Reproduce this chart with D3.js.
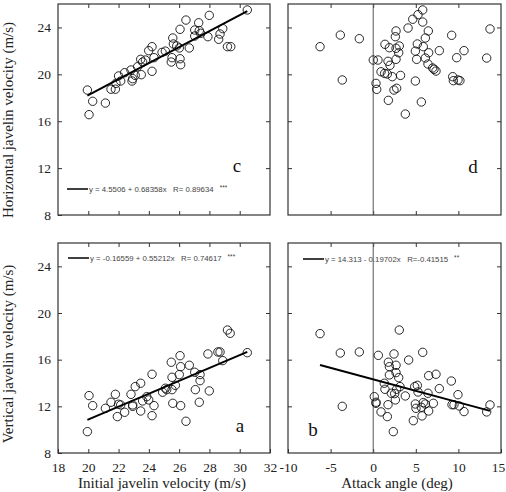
<!DOCTYPE html>
<html>
<head>
<meta charset="utf-8">
<script src="https://cdn.jsdelivr.net/npm/d3@7"></script>
<style>
  body { margin: 0; background: #fff; }
  svg { display: block; }
  .fit { white-space: pre; }
</style>
</head>
<body>
<div id="chart"></div>
<script>
// panel c: initial velocity vs horizontal velocity
const cInit = [19.94, 20.05, 20.29, 21.13, 21.5, 21.79, 21.83, 22.0, 22.14, 22.4, 22.82, 22.89, 22.93, 23.1, 23.26, 23.46, 23.5, 23.59, 23.77, 23.99, 24.21, 24.21, 24.34, 24.87, 25.09, 25.48, 25.53, 25.58, 25.62, 25.84, 26.06, 26.06, 26.1, 26.01, 26.45, 26.67, 27.03, 27.03, 27.29, 27.33, 27.42, 27.9, 27.99, 28.61, 28.7, 28.88, 29.19, 29.41, 30.5];
const cHoriz = [18.66, 16.56, 17.7, 17.55, 18.73, 18.73, 19.23, 19.86, 19.43, 20.14, 20.37, 19.43, 19.63, 19.91, 20.65, 21.28, 19.97, 21.05, 21.22, 22.02, 22.36, 20.26, 21.42, 21.87, 21.98, 21.05, 21.42, 23.1, 22.59, 22.42, 23.84, 21.33, 20.82, 22.25, 24.63, 22.25, 23.78, 23.27, 24.4, 23.73, 23.5, 23.21, 25.03, 22.99, 23.44, 23.9, 22.36, 22.36, 25.49];

// panel d: attack angle vs horizontal velocity
const dAngle = [-6.24, -3.86, -3.63, -1.63, 0.01, 0.33, 0.41, 0.56, 0.92, 1.34, 1.38, 1.66, 1.74, 1.78, 1.9, 1.97, 2.24, 2.44, 2.6, 2.68, 2.68, 2.68, 2.75, 3.06, 2.99, 3.21, 3.77, 4.09, 4.64, 4.95, 4.95, 5.1, 5.18, 5.26, 5.65, 5.81, 5.81, 5.88, 6.12, 6.12, 6.43, 6.51, 6.47, 6.98, 7.14, 7.37, 7.76, 9.21, 9.33, 9.41, 9.8, 9.95, 10.18, 10.66, 13.32, 13.71];
const dHoriz = [22.36, 23.35, 19.52, 23.04, 21.22, 19.23, 18.72, 21.22, 20.22, 20.08, 22.56, 20.03, 21.11, 17.78, 22.27, 20.77, 19.8, 18.66, 23.21, 23.7, 21.28, 22.22, 18.81, 22.42, 21.84, 19.91, 16.61, 23.95, 24.7, 21.98, 19.43, 21.28, 22.59, 25.09, 17.64, 24.46, 25.49, 22.36, 23.1, 21.39, 20.88, 21.84, 23.7, 20.54, 20.43, 20.28, 22.02, 23.33, 19.8, 19.46, 21.42, 19.52, 19.46, 22.02, 21.39, 23.87];

// panel a: initial velocity vs vertical velocity
const aInit = [19.94, 20.05, 20.29, 21.13, 21.5, 21.79, 21.92, 22.0, 22.14, 22.4, 22.82, 22.93, 22.93, 23.1, 23.46, 23.46, 23.59, 23.86, 23.99, 24.21, 24.21, 24.34, 24.91, 25.09, 25.18, 25.48, 25.53, 25.53, 25.58, 25.75, 26.01, 26.06, 26.1, 26.1, 26.45, 26.67, 27.03, 27.07, 27.33, 27.38, 27.38, 27.9, 27.99, 28.56, 28.7, 28.88, 29.19, 29.37, 30.5];
const aVert = [9.83, 12.92, 12.06, 11.83, 12.35, 13.03, 11.12, 12.18, 12.12, 11.49, 13.03, 12.12, 12.0, 13.69, 13.98, 11.6, 12.46, 12.83, 12.55, 14.75, 11.2, 12.06, 13.21, 13.55, 13.43, 15.78, 14.49, 13.43, 12.26, 13.8, 14.72, 16.34, 15.4, 12.06, 10.72, 15.52, 14.92, 13.43, 12.35, 14.2, 14.72, 16.49, 13.32, 16.66, 16.66, 15.92, 18.54, 18.26, 16.6];

// panel b: attack angle vs vertical velocity
const bAngle = [-6.24, -3.86, -3.63, -1.63, 0.13, 0.33, 0.33, 0.6, 0.92, 1.3, 1.38, 1.66, 1.74, 1.78, 1.9, 1.9, 2.13, 2.36, 2.44, 2.52, 2.6, 2.68, 2.68, 2.75, 2.99, 3.06, 3.15, 3.77, 4.16, 4.71, 4.87, 4.95, 5.02, 5.18, 5.26, 5.65, 5.73, 5.81, 5.88, 6.12, 6.43, 6.51, 6.51, 7.06, 7.37, 7.76, 9.17, 9.25, 9.48, 9.95, 10.1, 10.66, 13.32, 13.71];
const bVert = [18.23, 16.57, 12.0, 16.66, 12.83, 12.35, 12.26, 16.37, 11.52, 13.98, 13.46, 11.12, 12.14, 15.78, 15.4, 14.69, 13.12, 9.83, 16.49, 13.09, 12.55, 15.52, 14.89, 13.46, 14.46, 18.54, 13.69, 12.89, 15.97, 10.77, 13.69, 12.2, 11.83, 13.8, 13.23, 11.92, 11.18, 16.63, 12.32, 12.2, 13.12, 14.63, 11.6, 12.26, 14.75, 13.52, 14.17, 12.14, 12.14, 13.0, 12.03, 11.55, 11.52, 12.12];

// regression fits: [intercept, slope]
const cFit = [4.5506, 0.68358];
const aFit = [-0.16559, 0.55212];
const bFit = [14.313, -0.19702];

const velTicks = [18, 20, 22, 24, 26, 28, 30, 32];
const angleTicks = [-10, -5, 0, 5, 10, 15];
const yTicks = [8, 12, 16, 20, 24];

const width = 506, height = 492;
const svg = d3.select('#chart').append('svg')
    .attr('width', width)
    .attr('height', height);

const serif = '"Liberation Serif", "DejaVu Serif", serif';
const sans = '"Liberation Sans", Arial, sans-serif';

const xVel = rng => d3.scaleLinear().domain([18, 32]).range(rng);
const xAng = rng => d3.scaleLinear().domain([-10, 15]).range(rng);

function panel(p) {
    const x = p.x, y = p.y;
    const g = svg.append('g');
    const [xa, xb] = x.range();
    const [yb, ya] = y.range();

    g.append('rect')
        .attr('x', xa).attr('y', ya)
        .attr('width', xb - xa).attr('height', yb - ya)
        .attr('fill', 'none').attr('stroke', '#333').attr('stroke-width', 1.2);

    const inner = p.xTicks.slice(1, -1);
    const yInner = [12, 16, 20, 24];

    const strip = s => s.call(a => a.select('.domain').remove())
        .call(a => a.selectAll('line').attr('stroke', '#333'));

    // bottom
    g.append('g').attr('transform', `translate(0,${yb})`)
        .call(d3.axisBottom(x).tickValues(p.showX ? p.xTicks : inner).tickSize(-4).tickPadding(9)
            .tickFormat(p.showX ? d => String(d).replace('\u2212', '-') : ''))
        .call(strip)
        .call(a => a.selectAll('text').attr('font-family', serif).attr('font-size', 13.5).attr('fill', '#222'))
        .call(a => a.selectAll('text').filter(d => d === 15).attr('dx', -3));
    // top
    g.append('g').attr('transform', `translate(0,${ya})`)
        .call(d3.axisTop(x).tickValues(inner).tickSize(-4).tickFormat(''))
        .call(strip);
    // left
    g.append('g').attr('transform', `translate(${xa},0)`)
        .call(d3.axisLeft(y).tickValues(p.showY ? yTicks : yInner).tickSize(-4).tickPadding(7)
            .tickFormat(p.showY ? d3.format('d') : ''))
        .call(strip)
        .call(a => a.selectAll('text').attr('font-family', serif).attr('font-size', 13.5).attr('fill', '#222'));
    // right
    g.append('g').attr('transform', `translate(${xb},0)`)
        .call(d3.axisRight(y).tickValues(yInner).tickSize(-4).tickFormat(''))
        .call(strip);

    if (p.zero) {
        g.append('line')
            .attr('x1', x(0)).attr('x2', x(0))
            .attr('y1', ya).attr('y2', yb)
            .attr('stroke', '#555').attr('stroke-width', 1);
    }

    const pts = p.xs.map((v, i) => [v, p.ys[i]]);
    g.selectAll('circle')
        .data(pts)
        .enter().append('circle')
        .attr('cx', d => x(d[0]))
        .attr('cy', d => y(d[1]))
        .attr('r', 4.2)
        .attr('fill', 'none')
        .attr('stroke', '#111')
        .attr('stroke-width', 0.9);

    if (p.fit) {
        const lo = d3.min(p.xs), hi = d3.max(p.xs);
        g.append('line')
            .attr('x1', x(lo)).attr('y1', y(p.fit[0] + p.fit[1] * lo))
            .attr('x2', x(hi)).attr('y2', y(p.fit[0] + p.fit[1] * hi))
            .attr('stroke', '#000').attr('stroke-width', 2);

        const [lx, ly] = p.legend;
        g.append('line')
            .attr('x1', lx).attr('x2', lx + 21)
            .attr('y1', ly).attr('y2', ly)
            .attr('stroke', '#000').attr('stroke-width', 1.5);
        const t = g.append('text')
            .attr('class', 'fit')
            .attr('x', lx + 22).attr('y', ly + 3)
            .attr('font-family', sans).attr('font-size', 7.8).attr('fill', '#444')
            .text(p.fitText);
        t.append('tspan').attr('dx', 6).attr('dy', -2).attr('font-size', 6.5).text(p.stars);
    }

    g.append('text')
        .attr('x', p.letter[0]).attr('y', p.letter[1])
        .attr('text-anchor', 'middle')
        .attr('font-family', serif).attr('font-size', 19)
        .attr('fill', '#111')
        .text(p.name);
}

const yTop = d3.scaleLinear().domain([8, 26]).range([215, 4]);
const yBot = d3.scaleLinear().domain([8, 26]).range([453, 243]);

panel({ x: xVel([58, 270]), y: yTop, xTicks: velTicks, xs: cInit, ys: cHoriz, fit: cFit,
    fitText: 'y = 4.5506 + 0.68358x   R= 0.89634', stars: '***', legend: [67, 189],
    name: 'c', letter: [237, 172], showY: true, showX: false });
panel({ x: xAng([288, 501]), y: yTop, xTicks: angleTicks, xs: dAngle, ys: dHoriz, zero: true,
    name: 'd', letter: [473, 173], showY: false, showX: false });
panel({ x: xVel([58, 270]), y: yBot, xTicks: velTicks, xs: aInit, ys: aVert, fit: aFit,
    fitText: 'y = -0.16559 + 0.55212x   R= 0.74617', stars: '***', legend: [68, 258],
    name: 'a', letter: [240, 432], showY: true, showX: true });
panel({ x: xAng([288, 501]), y: yBot, xTicks: angleTicks, xs: bAngle, ys: bVert, fit: bFit, zero: true,
    fitText: 'y = 14.313 - 0.19702x   R=-0.41515', stars: '**', legend: [303, 259],
    name: 'b', letter: [313, 436], showY: false, showX: true });

// axis titles
svg.append('text')
    .attr('x', 162).attr('y', 488)
    .attr('text-anchor', 'middle')
    .attr('font-family', serif).attr('font-size', 15).attr('fill', '#222')
    .text('Initial javelin velocity (m/s)');
svg.append('text')
    .attr('x', 397).attr('y', 488)
    .attr('text-anchor', 'middle')
    .attr('font-family', serif).attr('font-size', 15).attr('fill', '#222')
    .text('Attack angle (deg)');
svg.append('text')
    .attr('transform', 'translate(13,120) rotate(-90)')
    .attr('text-anchor', 'middle')
    .attr('font-family', serif).attr('font-size', 15).attr('fill', '#222')
    .text('Horizontal javelin velocity (m/s)');
svg.append('text')
    .attr('transform', 'translate(13,354) rotate(-90)')
    .attr('text-anchor', 'middle')
    .attr('font-family', serif).attr('font-size', 15).attr('fill', '#222')
    .text('Vertical javelin velocity (m/s)');
</script>
</body>
</html>
